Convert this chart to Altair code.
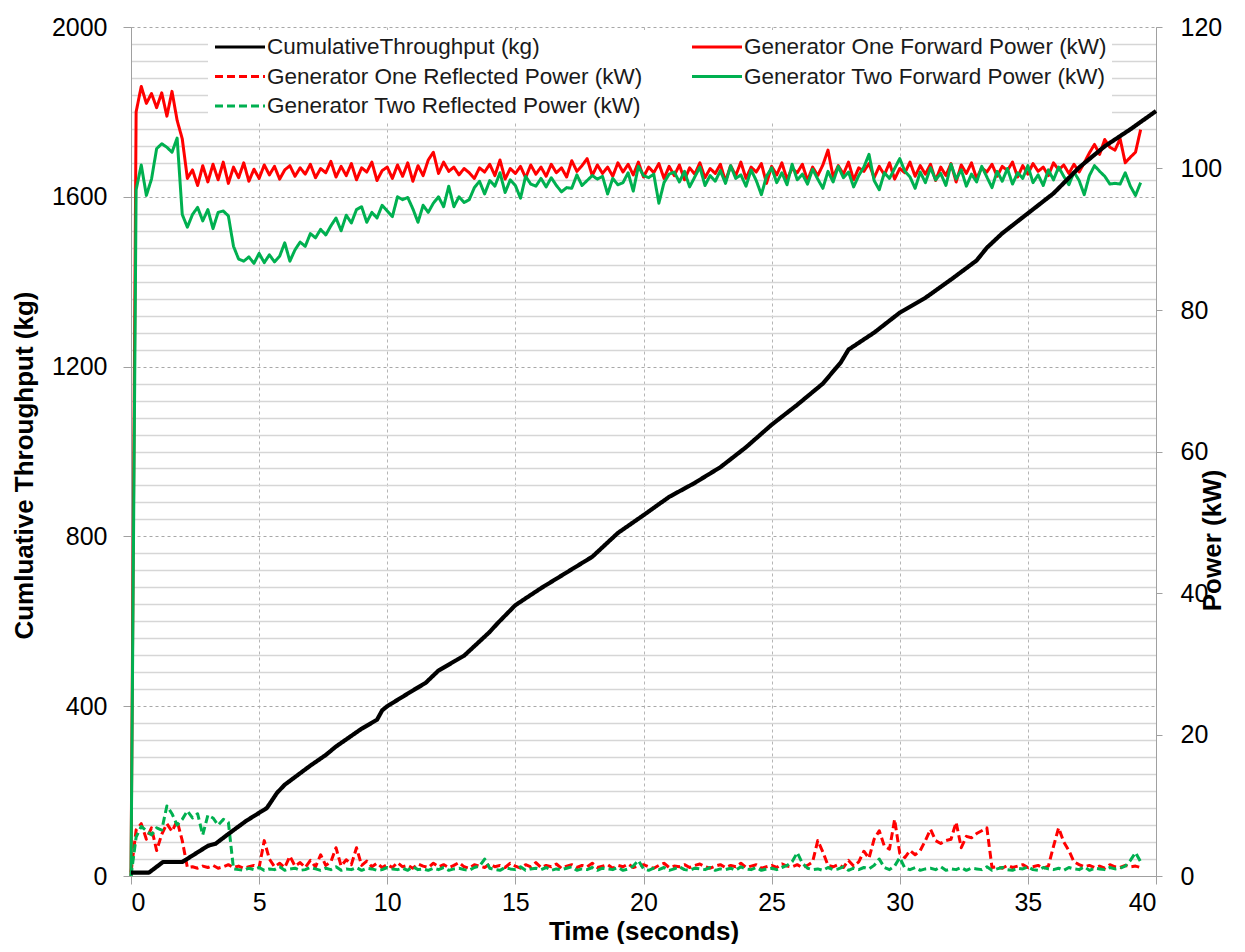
import altair as alt
import pandas as pd

FONT = "Liberation Sans"

# legend order is column-major (3 rows x 2 columns)
SERIES = [
    "CumulativeThroughput (kg)",
    "Generator One Reflected Power (kW)",
    "Generator Two Reflected Power (kW)",
    "Generator One Forward Power (kW)",
    "Generator Two Forward Power (kW)",
]
COLORS = ["#000000", "#ff0000", "#00b050", "#ff0000", "#00b050"]
DASHES = [[1, 0], [8, 4], [8, 4], [1, 0], [1, 0]]

# sample times of the power records (s)
times = [round(0.2 * i, 1) for i in range(198)]

g1_forward = [
    0, 108.0, 111.6, 109.2, 110.6, 108.6, 110.7, 107.4, 110.9, 106.8,
    104.2, 98.6, 99.8, 97.6, 100.4, 98.1, 100.6, 98.4, 100.9, 97.9,
    100.2, 98.7, 100.8, 98.2, 99.9, 98.6, 100.5, 99.1, 100.3, 98.5,
    99.8, 100.4, 98.9, 100.1, 99.2, 100.6, 98.7, 100.0, 99.4, 101.0,
    98.8, 100.3, 99.0, 100.7, 98.4, 100.1, 99.5, 100.9, 98.3, 99.7,
    100.2, 98.6, 100.5, 98.9, 100.8, 98.2, 100.4, 99.0, 101.2, 102.3,
    99.3, 100.9, 99.6, 100.2, 99.1, 100.0, 99.4, 98.6, 100.1, 99.5,
    100.6, 99.0, 101.2, 98.5, 100.0, 99.3, 100.3, 98.7, 100.5, 99.2,
    100.2, 98.9, 100.6, 99.4, 100.1, 98.8, 101.1, 99.6, 100.4, 101.4,
    99.0, 100.5, 99.3, 100.2, 98.9, 100.8, 99.5, 100.6, 99.1, 100.9,
    98.8, 100.2, 99.4, 100.7, 98.6, 100.3, 99.0, 100.5, 98.4, 100.1,
    99.2, 100.8, 98.7, 100.0, 99.3, 100.6, 98.2, 100.4, 99.0, 100.9,
    98.6, 100.2, 99.5, 100.7, 97.9, 100.3, 99.1, 100.8, 98.5, 100.0,
    99.4, 100.6, 98.3, 100.2, 99.0, 100.5, 102.6, 98.8, 100.4, 99.2,
    100.9, 98.4, 100.1, 99.6, 100.7, 98.7, 100.3, 99.1, 100.8, 98.5,
    100.0, 99.4, 100.9, 98.9, 100.4, 99.2, 100.6, 98.3, 100.2, 99.0,
    100.7, 98.1, 100.5, 99.3, 100.8, 98.6, 100.1, 99.5, 100.6, 98.9,
    100.3, 99.7, 100.9, 98.8, 100.4, 99.2, 100.7, 99.6, 100.2, 99.0,
    100.8, 99.8, 100.5, 99.3, 100.6, 99.5, 100.8, 102.2, 103.4, 102.0,
    104.1, 103.0, 102.6, 104.2, 100.8, 101.6, 102.3, 105.5,
]

g2_forward = [
    0, 97.0, 100.5, 96.2, 98.5, 102.8, 103.5, 103.0, 102.3, 104.3,
    93.5, 91.7, 93.5, 94.5, 92.6, 94.2, 91.5, 93.8, 94.0, 93.3,
    89.0, 87.2, 86.9, 87.5, 86.6, 88.0, 86.7, 87.8, 86.8, 87.6,
    89.5, 86.9, 88.5, 89.6, 89.0, 90.8, 90.2, 91.4, 90.6, 91.9,
    93.0, 91.2, 93.4, 92.3, 94.2, 94.6, 92.4, 93.8, 93.0, 94.8,
    94.0, 93.2, 96.0, 95.6, 95.9, 94.3, 92.4, 94.8, 93.8, 95.1,
    96.0, 94.6, 97.5, 94.6, 96.0, 95.2, 95.6, 97.3, 98.2, 96.4,
    98.3, 97.5, 99.4, 96.6, 98.4, 97.6, 95.8, 98.9, 97.8, 97.5,
    98.6, 97.4, 98.7, 97.6, 96.7, 97.3, 97.2, 99.1, 97.6, 98.3,
    99.0, 98.5, 98.9, 96.4, 98.6, 97.7, 98.0, 99.4, 96.8, 100.3,
    99.0, 98.7, 99.2, 95.1, 98.0, 99.2, 99.5, 98.1, 99.6, 97.4,
    98.8, 100.2, 97.6, 99.0, 98.2, 99.7, 97.9, 100.4, 98.6, 99.1,
    97.5, 99.8, 98.3, 96.3, 98.9, 100.1, 98.0, 99.4, 97.7, 100.6,
    98.4, 99.2, 97.8, 99.9, 98.5, 97.2, 99.6, 98.1, 100.3, 98.7,
    99.5, 97.4, 99.0, 100.2, 102.0, 98.3, 97.0, 99.4, 98.6, 100.0,
    101.4, 99.6, 98.8, 97.2, 99.5, 98.0, 100.1, 98.4, 99.3, 97.6,
    100.6, 98.5, 99.8, 97.5, 99.2, 98.1, 100.3, 98.8, 97.3, 99.6,
    98.2, 100.0, 97.8, 99.4, 98.6, 100.4, 98.0, 99.1, 97.6, 99.8,
    98.4, 100.2, 98.9, 97.7, 99.5, 98.3, 96.3, 99.0, 100.4, 99.6,
    98.9, 97.8, 97.9, 97.8, 99.4, 97.5, 96.2, 98.0,
]

g1_reflected = (
    [0.5, 6.5, 7.4, 5.2, 6.8, 3.6, 5.9, 7.4, 6.3, 7.8, 5.0, 1.2]
    + [1.3, 1.1, 1.4, 1.2, 1.5, 1.1, 1.3, 1.6, 1.2, 1.4, 1.1, 1.3, 1.5, 1.2]
    + [5.0, 2.4, 1.3, 1.8, 1.2, 2.8, 1.4, 1.9, 1.2, 2.2, 1.3, 3.0, 1.5, 2.0,
       4.0, 1.4, 2.3, 1.6, 4.0, 1.5, 2.1, 1.3, 1.8, 1.2]
    + [1.6, 1.2, 1.9, 1.3, 1.5, 1.1, 1.7, 1.4, 1.2, 1.8,
       1.3, 1.6, 1.2, 1.5, 1.9, 1.3, 1.1, 1.6, 1.4, 1.2,
       1.7, 1.3, 1.5, 1.2, 1.8, 1.4, 1.1, 1.6, 1.3, 1.9,
       1.2, 1.5, 1.3, 1.7, 1.1, 1.4, 1.6, 1.2, 1.5, 1.3,
       1.8, 1.2, 1.4, 1.6, 1.1, 1.5, 1.3, 1.7, 1.2, 1.4,
       1.6, 1.3, 1.1, 1.5, 1.8, 1.2, 1.4, 1.3, 1.6, 1.2,
       1.5, 1.7, 1.3, 1.1, 1.4, 1.6, 1.2, 1.5, 1.3, 1.8,
       1.2, 1.4, 1.6, 1.1, 1.3, 1.5, 1.2, 1.7, 1.4, 1.3,
       1.6, 1.2, 1.5]
    + [2.0, 5.0, 3.4, 1.5, 1.3, 1.6, 1.2, 2.2, 1.4, 2.0, 3.5, 2.5, 5.2, 6.4,
       4.2, 3.8, 8.0, 3.2, 2.6, 3.6, 3.0, 3.6, 5.0, 6.6, 5.0, 4.6, 5.0, 5.2,
       7.6, 4.0, 5.6, 5.4, 6.0, 6.4, 6.8, 1.2]
    + [1.3, 1.1, 1.5, 1.2, 1.4, 1.6, 1.2, 1.3, 1.5, 1.1, 1.4]
    + [4.2, 6.8, 4.8, 3.6, 2.0, 1.6]
    + [1.3, 1.5, 1.2, 1.4, 1.1, 1.6, 1.3, 1.2, 1.5, 1.3, 1.4, 1.2]
)

g2_reflected = (
    [0.0, 5.5, 7.0, 6.4, 5.8, 6.8, 6.5, 9.9, 8.8, 7.2, 8.0, 9.2, 8.2, 8.8,
     5.8, 8.6, 8.2, 7.2, 8.0, 7.6, 1.0]
    + [0.9, 0.8, 1.1, 0.9, 1.2, 0.8, 1.0, 0.9, 1.3, 0.8, 1.0, 1.1, 0.8, 0.9,
       1.2, 1.0, 0.8, 1.1, 0.9, 1.3, 0.8, 1.0, 0.9, 1.2, 0.8, 1.1, 1.0, 0.8,
       0.9, 1.2, 1.0, 0.9, 1.1, 0.8, 1.3, 0.9, 1.0, 0.8, 1.1, 0.9, 1.2, 0.8,
       1.0, 1.1, 0.9, 0.8, 1.2, 1.4]
    + [2.4]
    + [1.1, 0.9, 0.8, 1.2, 1.0, 0.9, 1.3, 0.8, 1.0, 1.1, 0.9, 1.2, 0.8, 1.0,
       0.9, 1.1, 1.3, 0.8, 1.0, 0.9, 1.2, 0.8, 1.1, 1.0, 0.9, 1.2, 0.8, 1.0, 1.4]
    + [2.2]
    + [1.0, 0.8, 1.1, 0.9, 1.2, 0.8, 1.0, 1.3, 0.9, 0.8, 1.1, 1.0, 0.9, 1.2,
       0.8, 1.0, 0.9, 1.1, 0.8, 1.3, 1.0, 0.9, 1.2, 0.8, 1.0, 1.1, 0.9, 1.2, 1.5]
    + [2.0, 3.3, 1.8]
    + [1.1, 0.9, 1.0, 0.8, 1.2, 0.9, 1.0, 1.3, 0.8, 1.1, 0.9, 1.2, 1.0, 1.5]
    + [2.4]
    + [1.2, 0.9, 1.4]
    + [2.6]
    + [1.1, 0.9, 1.2, 0.8, 1.0, 1.1, 0.9, 1.3, 0.8, 1.0, 0.9, 1.2, 0.8, 1.1,
       1.0, 0.9, 1.3, 0.8, 1.0, 1.2, 0.9, 0.8, 1.1, 1.0, 1.3, 0.9, 0.8, 1.2,
       1.0, 0.9, 1.1, 0.8, 1.2, 1.0, 0.9, 1.3, 0.8, 1.1, 1.0, 0.9, 1.2, 1.0,
       1.1, 1.4]
    + [2.2, 3.3, 2.0]
)

cum_time = [0, 0.7, 1.25, 2.0, 3.0, 3.3, 3.8, 4.5, 5.3, 5.7, 6.0, 7.0, 7.6, 8.0,
            9.0, 9.6, 9.8, 10.0, 11.0, 11.5, 12.0, 13.0, 14.0, 14.3, 15.0, 16.0,
            17.0, 18.0, 19.0, 20.0, 21.0, 22.0, 23.0, 24.0, 25.0, 26.0, 27.0,
            27.7, 28.0, 29.0, 30.0, 31.0, 32.0, 33.0, 33.4, 34.0, 35.0, 36.0,
            37.0, 38.0, 39.0, 40.0]
cum_kg = [8, 8, 33, 33, 71, 76, 99, 130, 160, 196, 215, 260, 285, 305,
          347, 368, 390, 400, 437, 455, 484, 519, 575, 595, 638, 678,
          715, 752, 808, 850, 893, 926, 963, 1010, 1063, 1110, 1160,
          1210, 1240, 1280, 1327, 1362, 1405, 1450, 1480, 1514, 1561, 1608,
          1669, 1719, 1759, 1802]

for s in (g1_forward, g2_forward, g1_reflected, g2_reflected):
    assert len(s) == len(times), len(s)

rows = []
for name, vals in [("Generator One Forward Power (kW)", g1_forward),
                   ("Generator One Reflected Power (kW)", g1_reflected),
                   ("Generator Two Forward Power (kW)", g2_forward),
                   ("Generator Two Reflected Power (kW)", g2_reflected)]:
    for t, v in zip(times, vals):
        rows.append({"t": t, "value": v, "series": name})
df_pow = pd.DataFrame(rows)
df_cum = pd.DataFrame({"t": cum_time, "value": cum_kg, "series": SERIES[0]})

AX = "#a0a0a0"
LBL = 25
TTL = 26

x_enc = alt.X(
    "t:Q",
    scale=alt.Scale(domain=[0, 40], nice=False),
    axis=alt.Axis(
        values=[0, 5, 10, 15, 20, 25, 30, 35, 40], title="Time (seconds)",
        grid=True, gridDash=[3, 3], gridColor="#b5b5b5", gridWidth=1,
        domainColor=AX, tickColor=AX, tickSize=8, labelPadding=6,
        titlePadding=3, labelFontSize=LBL, titleFontSize=TTL,
        titleFontWeight="bold",
    ),
)

legend = alt.Legend(
    title=None, orient="none", legendX=77, legendY=3, columns=2,
    columnPadding=47, rowPadding=5.5, clipHeight=24, labelFontSize=22.5,
    labelFont=FONT, labelColor="#1a1a1a", symbolType="stroke",
    symbolSize=2500, symbolStrokeWidth=3.2, padding=5, fillColor="white",
    labelLimit=1000, labelOffset=0,
)

color_enc = alt.Color("series:N", scale=alt.Scale(domain=SERIES, range=COLORS),
                      legend=legend)
dash_enc = alt.StrokeDash("series:N", scale=alt.Scale(domain=SERIES, range=DASHES),
                          legend=legend)

power = alt.Chart(df_pow).mark_line(strokeWidth=3, strokeJoin="round").encode(
    x=x_enc,
    y=alt.Y(
        "value:Q",
        scale=alt.Scale(domain=[0, 120], nice=False),
        axis=alt.Axis(
            orient="right", values=[0, 20, 40, 60, 80, 100, 120], grid=False,
            title="Power (kW)", titleAngle=270, titleY=513, domainColor=AX,
            tickColor=AX, tickSize=6, labelPadding=18, titlePadding=4,
            labelFontSize=LBL, titleFontSize=TTL, titleFontWeight="bold",
        ),
    ),
    color=color_enc,
    strokeDash=dash_enc,
)

major = "datum.value % 400 === 0"
cum = alt.Chart(df_cum).mark_line(strokeWidth=4.2, strokeJoin="round").encode(
    x=x_enc,
    y=alt.Y(
        "value:Q",
        scale=alt.Scale(domain=[0, 2000], nice=False),
        axis=alt.Axis(
            orient="left", values=list(range(0, 2001, 40)), format="d",
            labelExpr=f"{major} ? datum.label : ''",
            title="Cumluative Throughput (kg)", titleY=438, grid=True,
            gridColor={"condition": {"test": major, "value": "#a8a8a8"}, "value": "#d6d6d6"},
            gridDash={"condition": {"test": major, "value": [3, 3]}, "value": []},
            gridWidth={"condition": {"test": major, "value": 1}, "value": 1.6},
            tickOpacity={"condition": {"test": major, "value": 1}, "value": 0},
            domainColor=AX, tickColor=AX, tickSize=8, labelPadding=16,
            titlePadding=14, labelFontSize=LBL, titleFontSize=TTL,
            titleFontWeight="bold",
        ),
    ),
    color=color_enc,
    strokeDash=dash_enc,
)

chart = (
    alt.layer(power, cum)
    .resolve_scale(y="independent")
    .properties(
        width=1229, height=936,
        autosize=alt.AutoSizeParams(type="fit", contains="padding"),
        padding={"left": 3, "top": 7, "right": 11, "bottom": 0},
    )
    .configure_view(stroke=None)
    .configure_axis(labelFont=FONT, titleFont=FONT, labelColor="#000000",
                    titleColor="#000000")
    .configure_legend(labelFont=FONT)
)

chart.save("out.html", embed_options={"renderer": "svg", "actions": False})
